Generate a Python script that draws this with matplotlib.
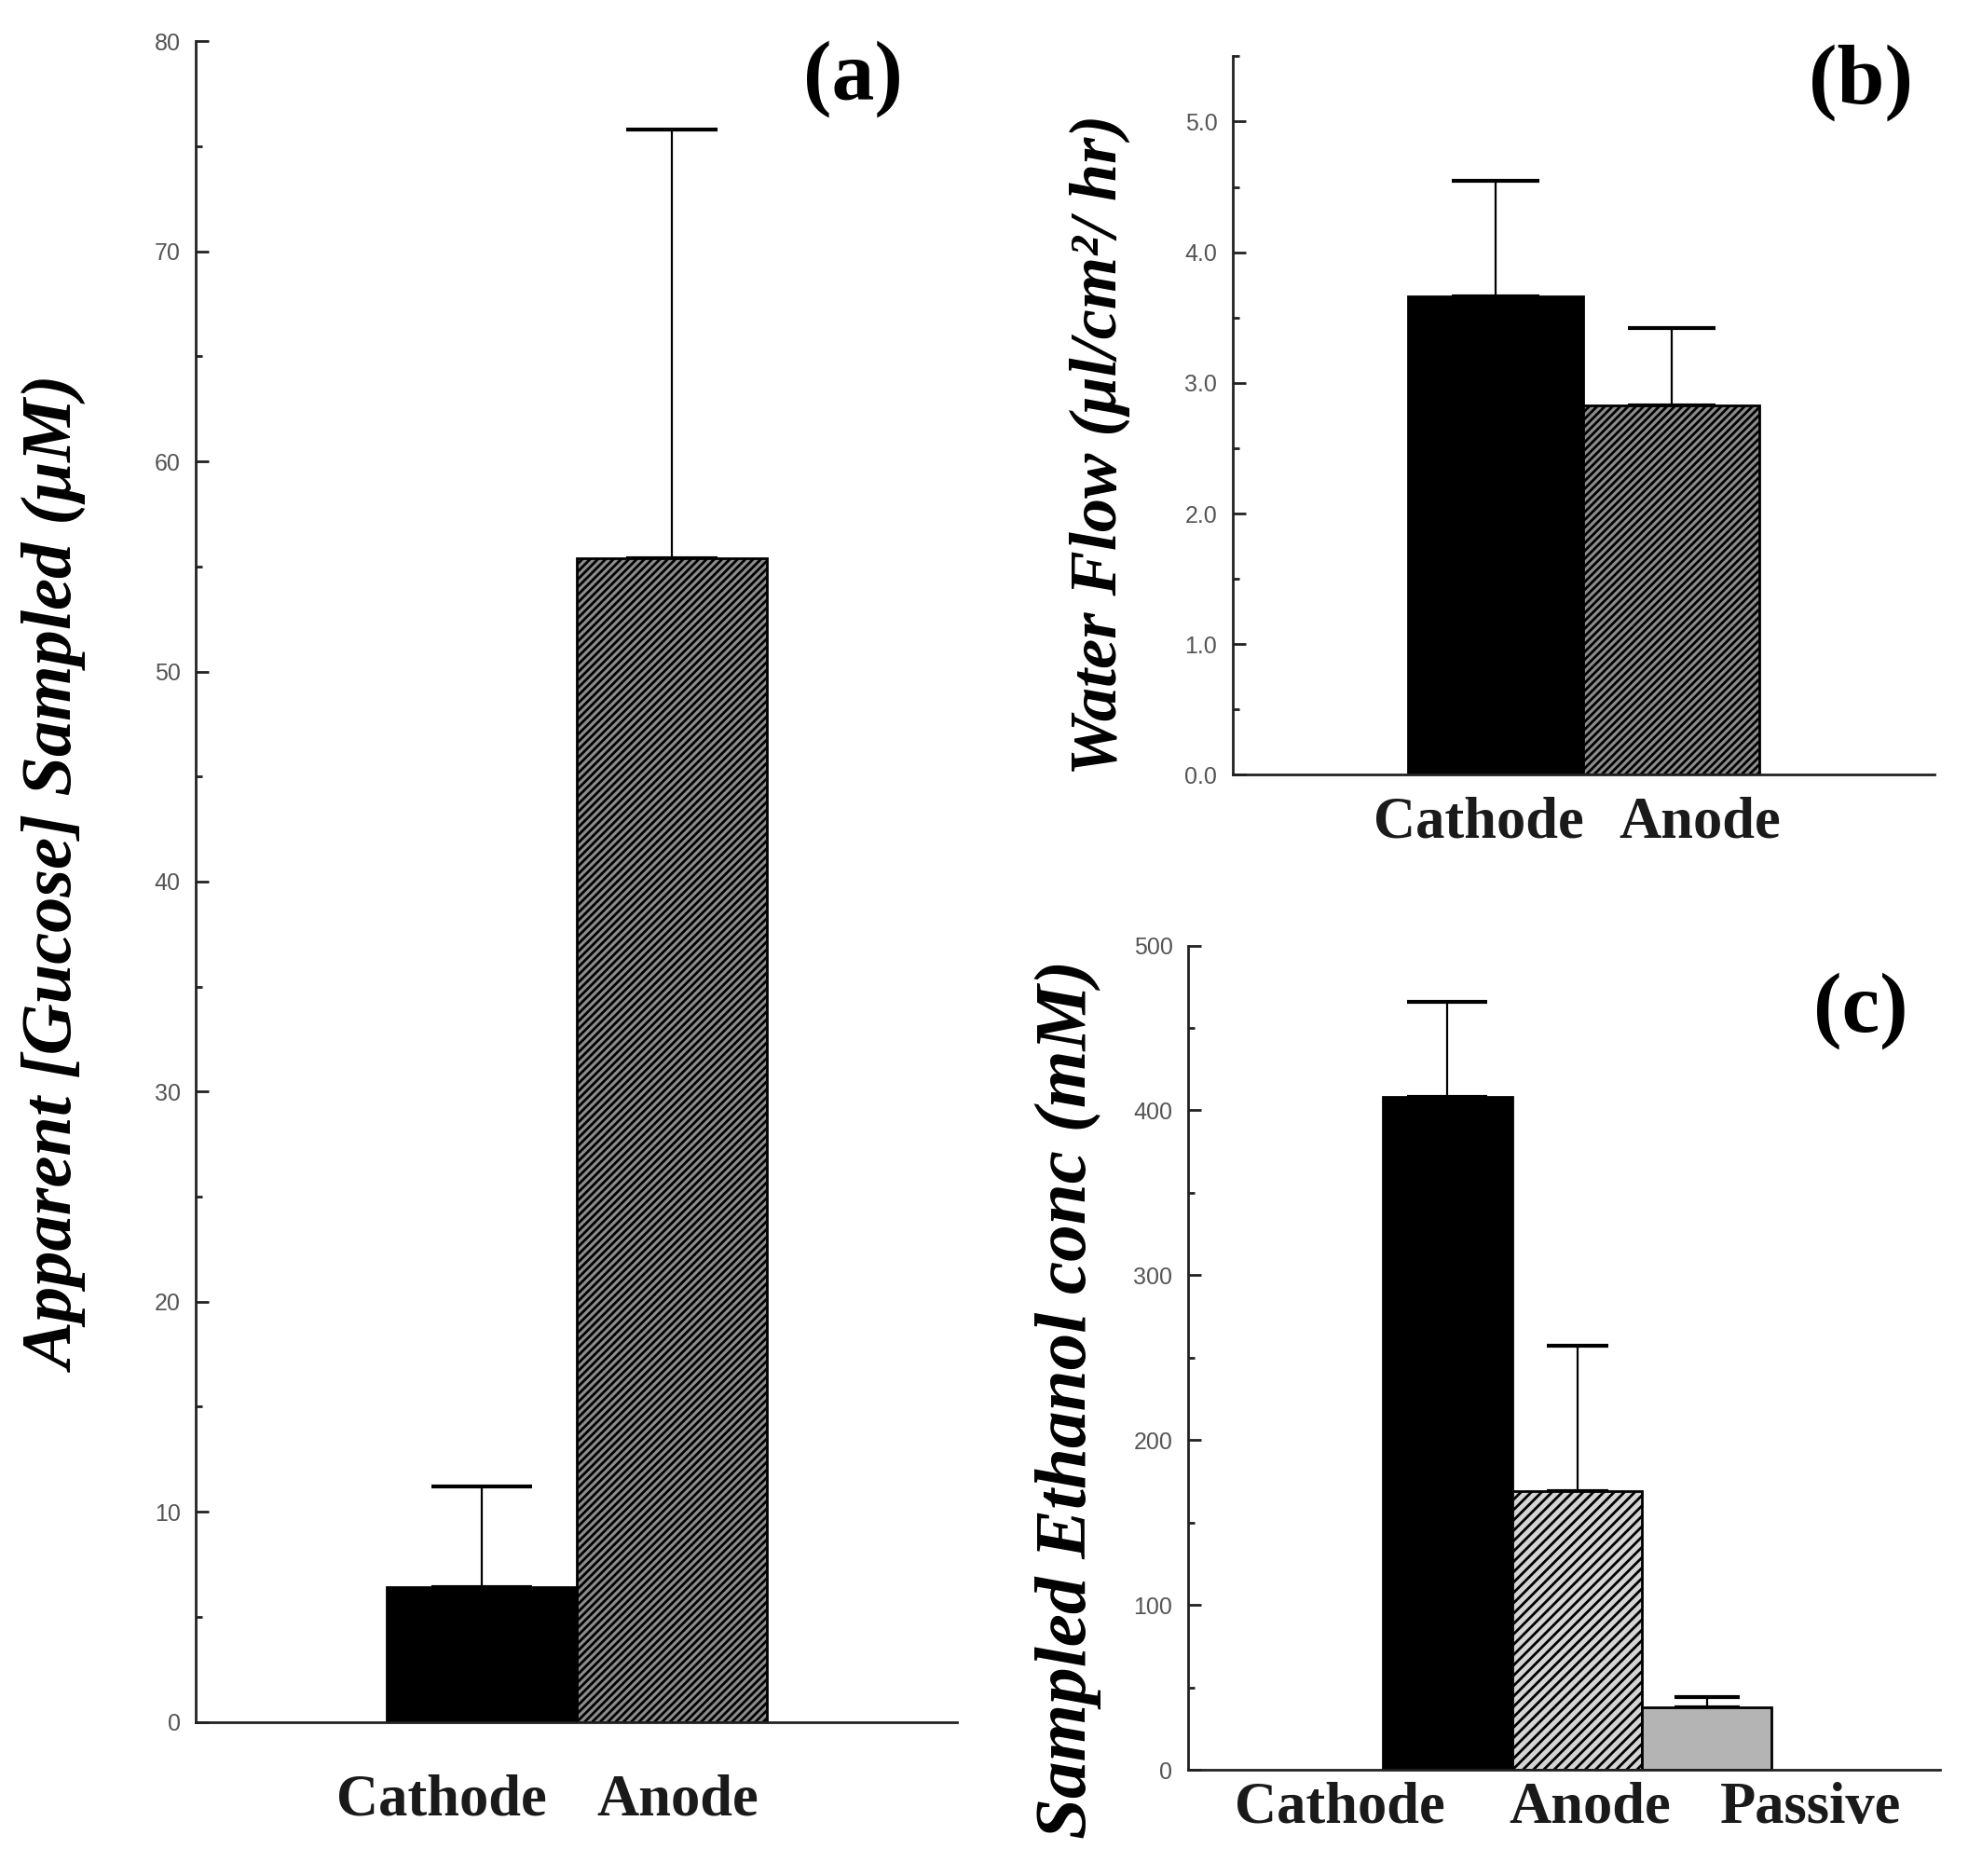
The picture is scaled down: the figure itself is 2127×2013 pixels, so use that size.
import matplotlib
matplotlib.use("Agg")
import matplotlib.pyplot as plt
from matplotlib.ticker import MultipleLocator, FormatStrFormatter

# ---------------- data ----------------
glucose_labels = ["Cathode", "Anode"]
glucose_values = [6.4, 55.4]
glucose_err = [4.8, 20.4]

water_labels = ["Cathode", "Anode"]
water_values = [3.66, 2.83]
water_err = [0.89, 0.59]

ethanol_labels = ["Cathode", "Anode", "Passive"]
ethanol_values = [408, 169, 38]
ethanol_err = [58, 88, 6]

a_ticks = [0, 10, 20, 30, 40, 50, 60, 70, 80]
b_ticks = [0.0, 1.0, 2.0, 3.0, 4.0, 5.0]
c_ticks = [0, 100, 200, 300, 400, 500]

# ---------------- style ----------------
plt.rcParams["hatch.linewidth"] = 2.0
SERIF = ["Liberation Serif", "DejaVu Serif"]
SANS = ["Liberation Sans", "DejaVu Sans"]
TICKCOL = "#555555"
AXCOL = "#222222"

fig = plt.figure(figsize=(21.27, 20.13), dpi=100)


def style_axis(ax, ylim, ticks, minor, fmt):
    ax.set_ylim(*ylim)
    for s in ("top", "right"):
        ax.spines[s].set_visible(False)
    for s in ("left", "bottom"):
        ax.spines[s].set_color(AXCOL)
        ax.spines[s].set_linewidth(2.0)
    ax.spines["left"].set_bounds(0, ylim[1])
    ax.set_yticks(ticks)
    ax.yaxis.set_minor_locator(MultipleLocator(minor))
    ax.yaxis.set_major_formatter(FormatStrFormatter(fmt))
    ax.tick_params(axis="y", which="major", direction="in", length=10, width=2.0,
                   color=AXCOL, labelsize=18, labelcolor=TICKCOL, pad=12)
    ax.tick_params(axis="y", which="minor", direction="in", length=5, width=2.0, color=AXCOL)
    ax.set_xticks([])
    for lab in ax.get_yticklabels():
        lab.set_family(SANS)


def draw_bars(ax, xs, vals, errs, faces, hatches, capsizes):
    for x, v, e, fc, h, cs in zip(xs, vals, errs, faces, hatches, capsizes):
        ax.bar(x, v, width=1.0, color=fc, edgecolor="black", linewidth=2.0,
               hatch=h, zorder=2)
        ax.errorbar(x, v, yerr=[[0], [e]], fmt="none", ecolor="black",
                    elinewidth=1.6, capsize=cs, capthick=3.0, zorder=1)


# ---------------- panel (a) ----------------
ax_a = fig.add_axes([0.0989, 0.0822, 0.3841, 0.8958])
ax_a.set_xlim(0, 4)
draw_bars(ax_a, [1.5, 2.5], glucose_values, glucose_err,
          ["black", "#8c8c8c"], ["", "////"], [39, 35])
style_axis(ax_a, (0, 80), a_ticks, 5, "%d")

# ---------------- panel (b) ----------------
ax_b = fig.add_axes([0.622, 0.587, 0.354, 0.383])
ax_b.set_xlim(0, 4)
draw_bars(ax_b, [1.5, 2.5], water_values, water_err,
          ["black", "#8c8c8c"], ["", "////"], [34, 34])
style_axis(ax_b, (0, 5.5), b_ticks, 0.5, "%.1f")

# ---------------- panel (c) ----------------
ax_c = fig.add_axes([0.5995, 0.0566, 0.3795, 0.4394])
ax_c.set_xlim(0, 5.8)
draw_bars(ax_c, [2, 3, 4], ethanol_values, ethanol_err,
          ["black", "#d4d4d4", "#b4b4b4"], ["", "///", ""], [31, 24, 25])
style_axis(ax_c, (0, 500), c_ticks, 50, "%d")

# ---------------- text ----------------
ylab_kw = dict(rotation=90, ha="center", va="center", family=SERIF,
               weight="bold", style="italic")
fig.text(0.0287, 0.534, "Apparent [Gucose] Sampled (μM)", fontsize=55, **ylab_kw)
fig.text(0.555, 0.763, "Water Flow (μl/cm²/ hr)", fontsize=52, **ylab_kw)
fig.text(0.539, 0.254, "Sampled Ethanol conc (mM)", fontsize=57, **ylab_kw)

panel_kw = dict(ha="center", va="center", family=SERIF, weight="bold", fontsize=66)
fig.text(0.4305, 0.958, "(a)", **panel_kw)
fig.text(0.939, 0.956, "(b)", **panel_kw)
fig.text(0.939, 0.461, "(c)", **panel_kw)

xlab_kw = dict(ha="center", va="center", family=SERIF, weight="bold", fontsize=45,
               color="#1a1a1a")
for name, fx in zip(glucose_labels, [0.2226, 0.3418]):
    fig.text(fx, 0.040, name, **xlab_kw)
for name, fx in zip(water_labels, [0.7462, 0.8578]):
    fig.text(fx, 0.561, name, **xlab_kw)
for name, fx in zip(ethanol_labels, [0.676, 0.8023, 0.9133]):
    fig.text(fx, 0.036, name, **xlab_kw)

fig.savefig("out.png", dpi=100, facecolor="white")
